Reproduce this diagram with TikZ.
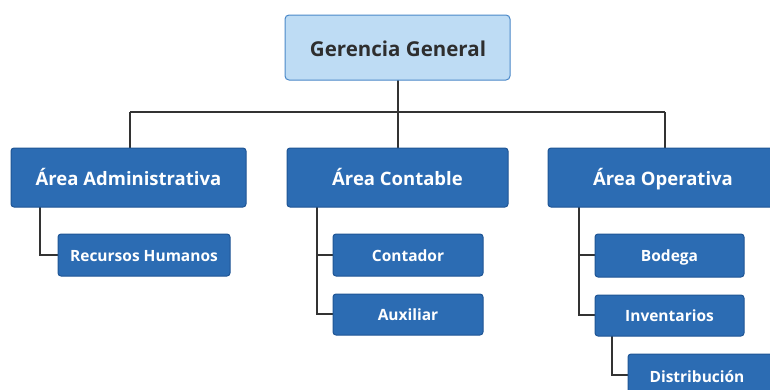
\documentclass[tikz,border=0pt]{standalone}
\usepackage{fontspec}
\setmainfont{Open Sans}
\begin{document}
\begin{tikzpicture}[x=1pt,y=-1pt,
  topbox/.style={draw=topborder,fill=topfill,line width=1pt,rounded corners=4pt},
  areabox/.style={draw=boxborder,fill=boxfill,line width=1pt,rounded corners=3pt},
  subbox/.style={draw=boxborder,fill=boxfill,line width=1pt,rounded corners=3pt},
  toptext/.style={anchor=base,text=textdark,font=\bfseries\fontsize{20.5}{24}\selectfont},
  areatext/.style={anchor=base,text=white,font=\bfseries\fontsize{18.5}{22}\selectfont},
  subtext/.style={anchor=base,text=white,font=\bfseries\fontsize{15.5}{18}\selectfont},
  conn/.style={draw=linecol,line width=1.2pt}]
\definecolor{topfill}{HTML}{BEDCF4}
\definecolor{topborder}{HTML}{4A88C8}
\definecolor{textdark}{HTML}{2E2E2E}
\definecolor{boxfill}{HTML}{2C6CB3}
\definecolor{boxborder}{HTML}{1F5595}
\definecolor{linecol}{HTML}{333333}
\useasboundingbox (0,0) rectangle (770,389);
\fill[white] (0,0) rectangle (770,389);
% connectors
\coordinate (jt) at (398,112);
\coordinate (ja) at (130,112);
\coordinate (jo) at (665,112);
\draw[conn] (398,80) -- (jt);
\draw[conn] (ja) -- (jo);
\draw[conn] (ja) -- (130,148);
\draw[conn] (jt) -- (398,148);
\draw[conn] (jo) -- (665,148);
\draw[conn] (40,207) |- (58,255);
\draw[conn] (317,207) |- (333,255);
\draw[conn] (317,255) |- (333,314);
\draw[conn] (579,207) |- (595,255);
\draw[conn] (579,255) |- (595,315);
\draw[conn] (612,336) |- (628,375);
% boxes
\draw[topbox] (285,15) rectangle (510,80);
\node[toptext] (gg) at (398,56) {Gerencia General};
\draw[areabox] (11,148) rectangle (246,207);
\node[areatext] (aa) at (128.5,185) {Área Administrativa};
\draw[areabox] (287,148) rectangle (508,207);
\node[areatext] (ac) at (397.5,185) {Área Contable};
\draw[areabox] (548,148) rectangle (778,207);
\node[areatext] (ao) at (663,185) {Área Operativa};
\draw[subbox] (58,234) rectangle (230,276);
\node[subtext] (rh) at (144,261) {Recursos Humanos};
\draw[subbox] (333,234) rectangle (483,276);
\node[subtext] (co) at (408,261) {Contador};
\draw[subbox] (333,294) rectangle (483,335);
\node[subtext] (au) at (408,320.5) {Auxiliar};
\draw[subbox] (595,234) rectangle (744,277);
\node[subtext] (bo) at (669.5,261) {Bodega};
\draw[subbox] (595,295) rectangle (744,336);
\node[subtext] (in) at (669.5,321) {Inventarios};
\draw[subbox] (628,354) rectangle (778,400);
\node[subtext] (di) at (697,382) {Distribución};
\end{tikzpicture}
\end{document}
